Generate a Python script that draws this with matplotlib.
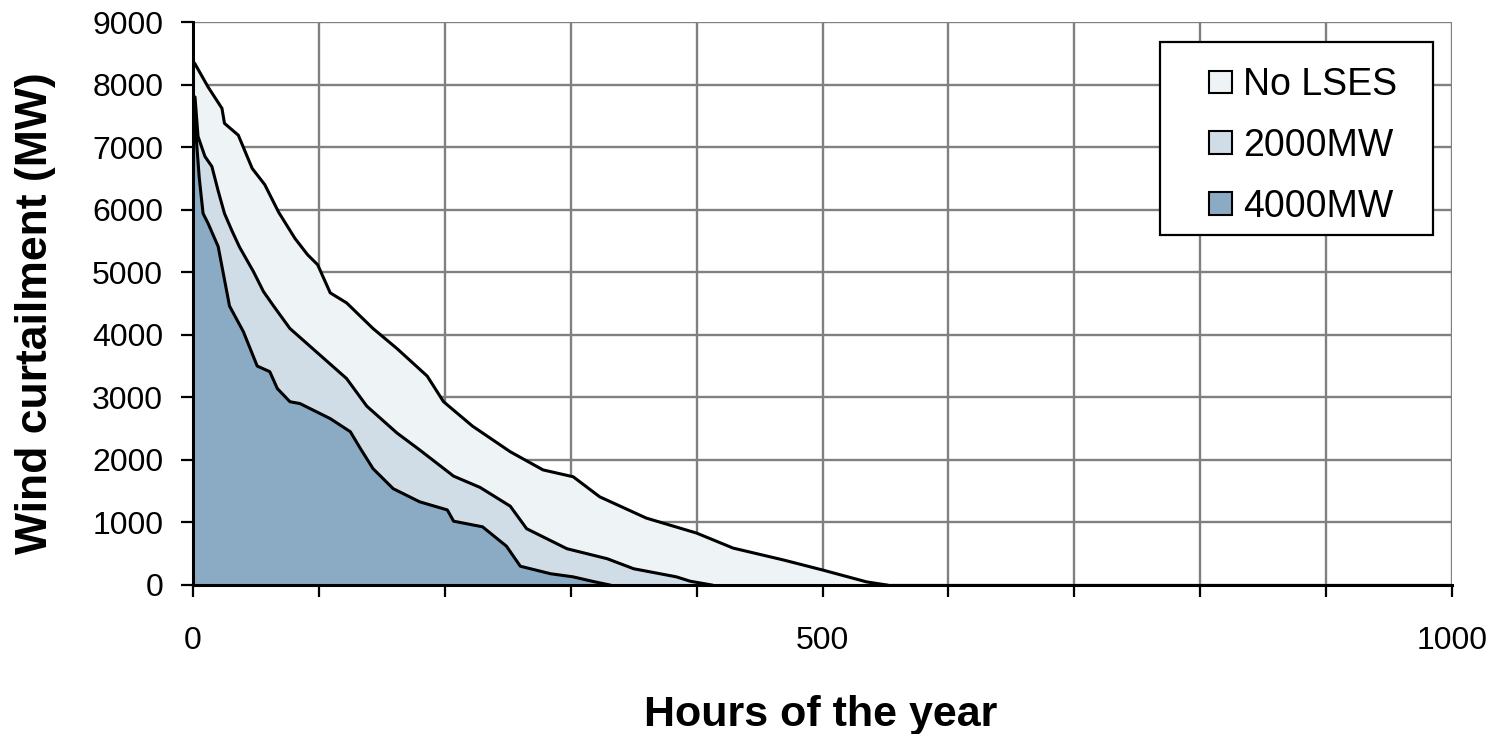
import matplotlib.pyplot as plt
import matplotlib.patches as mpatches

plt.rcParams['font.family'] = ['Liberation Sans', 'DejaVu Sans']

# duration curves (hours, MW)
hours_none = [0, 1.6, 12, 23, 25, 36, 47, 57, 68, 81, 91, 99, 109, 122, 143, 162, 186,
              199, 222, 252, 278, 302, 323, 360, 400, 429, 469, 500, 535, 551]
mw_none = [8370, 8330, 7960, 7620, 7380, 7190, 6660, 6400, 5960, 5540, 5280, 5120, 4670,
           4510, 4100, 3780, 3340, 2930, 2540, 2130, 1840, 1730, 1410, 1070, 830, 590,
           400, 240, 50, 0]

hours_2000 = [0, 1.6, 4, 9.5, 15, 20, 25, 31, 37, 48, 56, 64, 77, 95, 122, 138, 162, 180,
              207, 228, 252, 265, 297, 329, 350, 384, 395, 412]
mw_2000 = [7820, 7800, 7170, 6850, 6690, 6300, 5940, 5660, 5400, 5010, 4690, 4460, 4100,
           3780, 3300, 2860, 2430, 2160, 1740, 1560, 1260, 900, 580, 420, 260, 130, 60, 0]

hours_4000 = [0, 2, 5, 8, 12, 20, 29, 40, 51, 61, 67, 77, 85, 109, 125, 133, 143, 159,
              180, 202, 207, 230, 249, 260, 284, 302, 317, 331]
mw_4000 = [7700, 7300, 6500, 5940, 5780, 5410, 4460, 4050, 3500, 3410, 3140, 2930, 2900,
           2660, 2450, 2180, 1860, 1540, 1330, 1200, 1020, 930, 620, 300, 180, 130, 60, 0]

series = [
    ("No LSES", hours_none, mw_none, "#EEF3F6"),
    ("2000MW", hours_2000, mw_2000, "#D0DDE6"),
    ("4000MW", hours_4000, mw_4000, "#8BABC4"),
]

x_ticks = list(range(0, 1001, 100))
x_labels = ["0" if t == 0 else (str(t) if t % 500 == 0 else "") for t in x_ticks]
y_ticks = list(range(0, 9001, 1000))

W, H = 1501, 734
fig = plt.figure(figsize=(W / 100, H / 100), dpi=100)
ax = fig.add_axes([193 / W, 1 - 585 / H, 1259 / W, 563 / H])

for i, (name, h, mw, col) in enumerate(series):
    ax.fill_between(h, mw, 0, color=col, lw=0, zorder=2 + i)
    ax.plot(h, mw, color="black", lw=2.2, zorder=2 + i)

ax.set_xlim(0, 1000)
ax.set_ylim(0, 9000)
ax.set_xticks(x_ticks)
ax.set_xticklabels(x_labels)
ax.set_yticks(y_ticks)
ax.tick_params(axis="both", labelsize=23, direction="out", width=1.6, length=8.5,
               color="black")
ax.tick_params(axis="x", pad=21)
ax.tick_params(axis="y", pad=13)

ax.set_axisbelow(True)
ax.grid(True, color="#808080", lw=1.7)
for side in ["top", "right"]:
    ax.spines[side].set_visible(False)
for side in ["left", "bottom"]:
    ax.spines[side].set_linewidth(2.2)
    ax.spines[side].set_zorder(10)

fig.text(821 / W, 1 - 715 / H, "Hours of the year", fontsize=31, fontweight="bold",
         ha="center", va="center")
fig.text(36 / W, 1 - 313 / H, "Wind curtailment (MW)", fontsize=32,
         fontweight="bold", rotation=90, ha="center", va="center")

# legend frame drawn by hand (Excel-style padding)
frame = mpatches.Rectangle((1160 / W, 1 - 235 / H), 273 / W, 193 / H,
                           transform=fig.transFigure, facecolor="white",
                           edgecolor="black", lw=1.6, zorder=19, clip_on=False)
ax.add_artist(frame)

handles = [mpatches.Patch(facecolor=col, edgecolor="black", lw=1.5, label=name)
           for name, _, _, col in series]
leg = ax.legend(handles=handles, loc="center left", bbox_to_anchor=(1209 / W, 1 - 146 / H),
                bbox_transform=fig.transFigure, fontsize=27, frameon=False,
                handlelength=0.6, handleheight=0.55, handletextpad=0.3, labelspacing=0.66,
                borderpad=0, borderaxespad=0)
leg.set_zorder(20)

fig.savefig("out.png", dpi=100, facecolor="white")
